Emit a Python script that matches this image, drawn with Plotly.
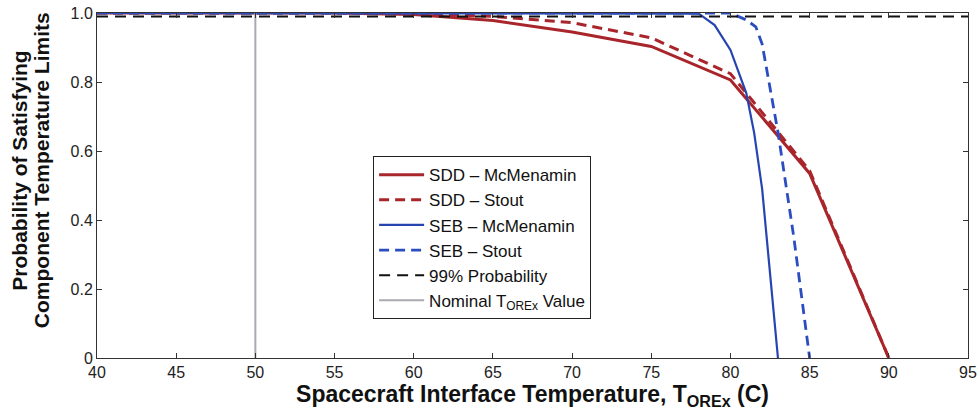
import plotly.graph_objects as go

# Interface temperature (C) and probability of satisfying component limits
sdd_mc_temp = [40, 45, 50, 55, 60, 65, 70, 75, 80, 85, 90]
sdd_mc_prob = [1.0, 1.0, 1.0, 1.0, 0.996, 0.978, 0.945, 0.903, 0.806, 0.535, 0.0]

sdd_st_temp = [40, 45, 50, 55, 60, 65, 70, 75, 80, 85, 90]
sdd_st_prob = [1.0, 1.0, 1.0, 1.0, 1.0, 0.99, 0.972, 0.928, 0.824, 0.543, 0.0]

seb_mc_temp = [40, 50, 60, 70, 77, 78, 79, 80, 81, 81.5, 82, 83]
seb_mc_prob = [1.0, 1.0, 1.0, 1.0, 1.0, 0.998, 0.965, 0.893, 0.768, 0.652, 0.49, 0.0]

seb_st_temp = [40, 50, 60, 70, 80, 81, 81.6, 82, 83, 84, 85]
seb_st_prob = [1.0, 1.0, 1.0, 1.0, 1.0, 0.98, 0.96, 0.91, 0.655, 0.35, 0.0]

threshold_temp = [40, 95]
threshold_prob = [0.99, 0.99]

nominal_temp = [50, 50]
nominal_prob = [0.0, 1.0]

x_ticks = [40, 45, 50, 55, 60, 65, 70, 75, 80, 85, 90, 95]
y_ticks = [0, 0.2, 0.4, 0.6, 0.8, 1.0]
y_tick_labels = ["0", "0.2", "0.4", "0.6", "0.8", "1.0"]
y_title_lines = ["Probability of Satisfying", "Component Temperature Limits"]

RED = "#A8262B"
BLUE = "#2645B0"
BLUE_D = "#2B4DC0"
FONT = "Liberation Sans, Arial, sans-serif"

fig = go.Figure()
fig.add_trace(go.Scatter(x=sdd_mc_temp, y=sdd_mc_prob, mode="lines",
                         name="SDD \u2013 McMenamin",
                         line=dict(color=RED, width=3)))
fig.add_trace(go.Scatter(x=sdd_st_temp, y=sdd_st_prob, mode="lines",
                         name="SDD \u2013 Stout",
                         line=dict(color=RED, width=3, dash="10px,6px")))
fig.add_trace(go.Scatter(x=seb_mc_temp, y=seb_mc_prob, mode="lines",
                         name="SEB \u2013 McMenamin",
                         line=dict(color=BLUE, width=2.2)))
fig.add_trace(go.Scatter(x=seb_st_temp, y=seb_st_prob, mode="lines",
                         name="SEB \u2013 Stout",
                         line=dict(color=BLUE_D, width=2.8, dash="10px,6px")))
fig.add_trace(go.Scatter(x=threshold_temp, y=threshold_prob, mode="lines",
                         name="99% Probability",
                         line=dict(color="#111111", width=2, dash="11px,7px")))
fig.add_trace(go.Scatter(x=nominal_temp, y=nominal_prob, mode="lines",
                         name="Nominal T<sub>OREx</sub> Value",
                         line=dict(color="#A9A9B2", width=2)))

axis_common = dict(
    showgrid=False, zeroline=False, showline=True, linecolor="#333333",
    linewidth=1, mirror="ticks", ticks="inside", ticklen=5,
    tickcolor="#333333", tickfont=dict(family=FONT, size=16, color="#222222"),
    automargin=False,
)

# two-line vertical axis title, one rotated annotation per line
title_font = dict(family=FONT, size=21, color="#111111")
annotations = [
    dict(text="<b>%s</b>" % line, xref="paper", yref="paper", x=0, y=0.543,
         xanchor="center", yanchor="middle", xshift=shift, textangle=-90,
         showarrow=False, font=title_font)
    for line, shift in zip(y_title_lines, [-77, -55.5])
]

fig.update_layout(
    template="none",
    width=980, height=416,
    margin=dict(l=97, r=12, t=13, b=58),
    paper_bgcolor="white", plot_bgcolor="white",
    font=dict(family=FONT, color="#111111"),
    showlegend=True,
    legend=dict(
        x=0.317, y=0.585, xanchor="left", yanchor="top",
        bgcolor="white", bordercolor="#222222", borderwidth=1,
        font=dict(family=FONT, size=17, color="#111111"),
        tracegroupgap=0, itemwidth=45,
    ),
    xaxis=dict(
        range=[40, 95], tickvals=x_ticks, **axis_common,
        title=dict(text="<b>Spacecraft Interface Temperature, T<sub>OREx</sub> (C)</b>",
                   font=dict(family=FONT, size=23, color="#111111"), standoff=4),
    ),
    yaxis=dict(
        range=[0, 1], tickvals=y_ticks, ticktext=y_tick_labels, **axis_common,
    ),
    annotations=annotations,
)

fig.write_html("out.html")
